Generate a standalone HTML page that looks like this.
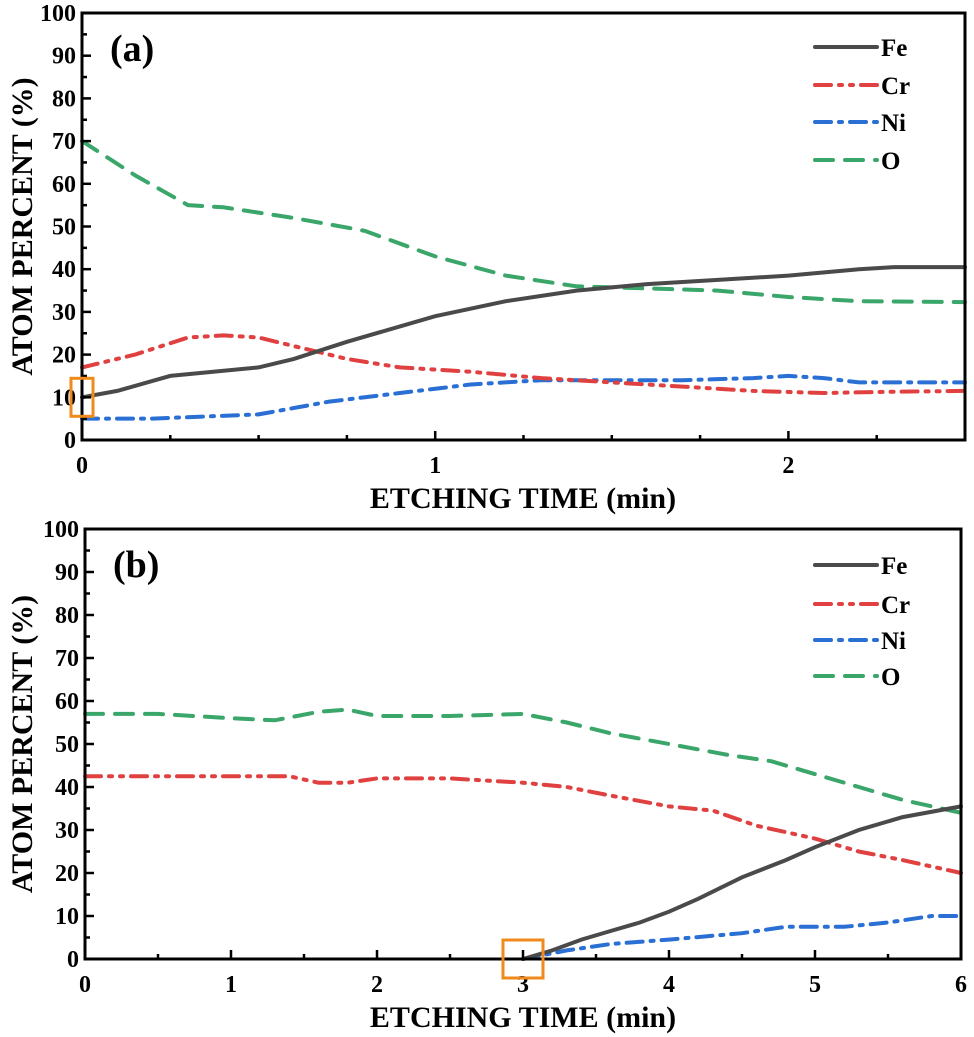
<!DOCTYPE html>
<html><head><meta charset="utf-8"><style>
body{margin:0;background:#fff}
svg{display:block;font-family:"Liberation Serif",serif;font-weight:bold}
</style></head><body>
<svg id="chart" width="974" height="1037" viewBox="0 0 974 1037"></svg>
<script>
// Panel (a) data
const aFeX=[0,0.1,0.25,0.5,0.6,0.75,1,1.2,1.4,1.6,1.8,2,2.2,2.3,2.5];
const aFeY=[10,11.5,15,17,19,23,29,32.5,35,36.5,37.5,38.5,40,40.5,40.5];
const aCrX=[0,0.15,0.3,0.4,0.5,0.6,0.75,0.9,1.1,1.3,1.5,1.7,1.9,2.1,2.3,2.5];
const aCrY=[17,20,24,24.5,24,22,19,17,16,14.5,13.5,12.5,11.5,11,11.3,11.5];
const aNiX=[0,0.2,0.5,0.7,0.9,1.1,1.3,1.5,1.7,1.9,2,2.1,2.2,2.5];
const aNiY=[5,5,6,9,11,13,14,14,14,14.5,15,14.5,13.5,13.5];
const aOX=[0,0.15,0.3,0.4,0.6,0.8,1,1.2,1.4,1.6,1.8,2,2.2,2.5];
const aOY=[70,62,55,54.5,52,49,43,38.5,36,35.5,35,33.5,32.5,32.3];
// Panel (b) data
const bFeX=[3,3.2,3.4,3.6,3.8,4,4.2,4.5,4.8,5,5.3,5.6,6];
const bFeY=[0,2,4.5,6.5,8.5,11,14,19,23,26,30,33,35.5];
const bCrX=[0,0.5,1,1.4,1.6,1.8,2,2.5,3,3.3,3.6,4,4.3,4.6,5,5.3,5.6,6];
const bCrY=[42.5,42.5,42.5,42.5,41,41,42,42,41,40,38,35.5,34.5,31,28,25,23,20];
const bNiX=[3,3.3,3.6,4,4.5,4.8,5.2,5.5,5.8,6];
const bNiY=[0,2,3.5,4.5,6,7.5,7.5,8.5,10,10];
const bOX=[0,0.5,1,1.3,1.6,1.8,2,2.5,3,3.3,3.6,4,4.4,4.7,5,5.3,5.6,6];
const bOY=[57,57,56,55.5,57.5,58,56.5,56.5,57,55,52.5,50,47.5,46,43,40,37,34];
const yTicks=[0,10,20,30,40,50,60,70,80,90,100];
const aXTicks=[0,1,2];
const bXTicks=[0,1,2,3,4,5,6];
const legendNames=["Fe","Cr","Ni","O"];

const NS="http://www.w3.org/2000/svg";
const svg=document.getElementById('chart');
function mk(tag,attrs,parent){const e=document.createElementNS(NS,tag);for(const k in attrs)e.setAttribute(k,attrs[k]);(parent||svg).appendChild(e);return e;}
const styles={
 Fe:{stroke:"#4a4a4a",dash:"none"},
 Cr:{stroke:"#e0403f",dash:"16 8 3 8 3 8"},
 Ni:{stroke:"#2a6fd4",dash:"16 8 3 8"},
 O:{stroke:"#3aa66a",dash:"18 12"}
};
function panel(p){
 const g=mk('g',{});
 
 
 const sx=v=>p.x0+(v-p.xmin)/(p.xmax-p.xmin)*(p.x1-p.x0);
 const sy=v=>p.y0-(v/100)*(p.y0-p.y1);
 p.series.forEach(s=>{
  const d=s.x.map((v,i)=>(i?'L':'M')+sx(v).toFixed(1)+' '+sy(s.y[i]).toFixed(1)).join(' ');
  const path=mk('path',{d:d,fill:'none',stroke:styles[s.n].stroke,'stroke-width':4,'stroke-dasharray':styles[s.n].dash,'stroke-linecap':'round'},g);
  
  
 });
 const fr=mk('rect',{x:p.x0,y:p.y1,width:p.x1-p.x0,height:p.y0-p.y1,fill:'none',stroke:'#000','stroke-width':3},g);
 
 
 for(let v=0;v<=100;v+=5){const y=sy(v);const L=v%10===0?9:5;mk('line',{x1:p.x0,x2:p.x0+L,y1:y,y2:y,stroke:'#000','stroke-width':2.5},g);}
 yTicks.forEach(v=>{const t=mk('text',{x:p.x0-6,y:sy(v)+8,'text-anchor':'end','font-size':24},g);t.textContent=v;
  
  });
 for(let v=p.xmin;v<=p.xmax+1e-6;v+=p.minor){const x=sx(v);const major=Math.abs(v-Math.round(v))<1e-6;mk('line',{x1:x,x2:x,y1:p.y0,y2:p.y0-(major?9:5),stroke:'#000','stroke-width':2.5},g);}
 p.xt.forEach(v=>{const t=mk('text',{x:sx(v),y:p.y0+33,'text-anchor':'middle','font-size':24},g);t.textContent=v;
  
  });
 const xt=mk('text',{x:523,y:p.y0+68,'text-anchor':'middle','font-size':30},g);xt.textContent='ETCHING TIME (min)';
 
 
 const cy=(p.y0+p.y1)/2;
 const yt=mk('text',{x:0,y:0,'text-anchor':'middle','font-size':30,transform:`translate(32,${cy}) rotate(-90)`},g);yt.textContent='ATOM PERCENT (%)';
 
 
 const lab=mk('text',{x:p.x0+28,y:p.y1+48,'font-size':38},g);lab.textContent='('+p.id+')';
 
 
 legendNames.forEach((n,i)=>{
  const y=p.ly[i];
  const lg=mk('g',{},g);
  
  
  mk('line',{x1:815,x2:877,y1:y,y2:y,stroke:styles[n].stroke,'stroke-width':4,'stroke-dasharray':styles[n].dash,'stroke-linecap':'round'},lg);
  const t=mk('text',{x:881,y:y+9,'font-size':25},lg);t.textContent=n;
 });
 const m=mk('rect',{x:sx(p.mark[0])-p.mark[2]/2,y:sy(p.mark[1])-p.mark[3]/2,width:p.mark[2],height:p.mark[3],fill:'none',stroke:'#f08a1c','stroke-width':3},g);
 
 
}
panel({id:'a',x0:82,x1:965,y0:440,y1:13,xmin:0,xmax:2.5,minor:0.25,xt:aXTicks,ly:[47,85,122,160],mark:[0,10,22,38],
 series:[{n:'O',x:aOX,y:aOY},{n:'Ni',x:aNiX,y:aNiY},{n:'Cr',x:aCrX,y:aCrY},{n:'Fe',x:aFeX,y:aFeY}]});
panel({id:'b',x0:85,x1:961,y0:959,y1:529,xmin:0,xmax:6,minor:0.5,xt:bXTicks,ly:[565,604,640,676],mark:[3,0,40,38],
 series:[{n:'O',x:bOX,y:bOY},{n:'Ni',x:bNiX,y:bNiY},{n:'Cr',x:bCrX,y:bCrY},{n:'Fe',x:bFeX,y:bFeY}]});
</script>
</body></html>
